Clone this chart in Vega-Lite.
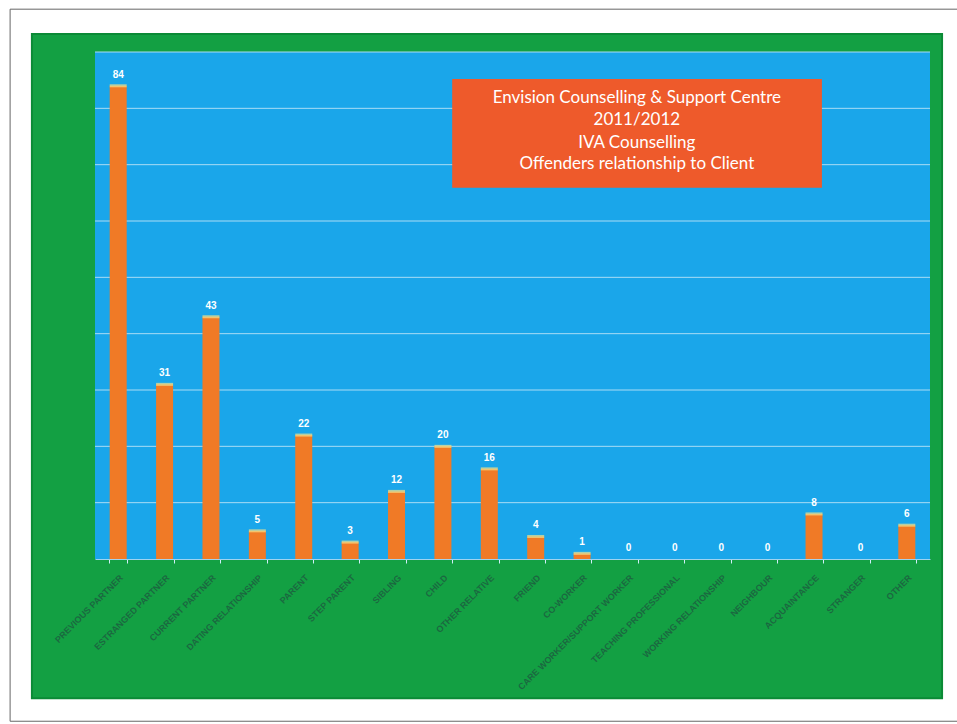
{
  "$schema": "https://vega.github.io/schema/vega-lite/v6.json",
  "autosize": {"type": "none"},
  "width": 835,
  "height": 507,
  "padding": {"left": 95, "top": 52, "right": 27, "bottom": 165},
  "background": "#ffffff",
  "config": {"view": {"stroke": null}},
  "resolve": {"scale": {"x": "independent"}, "axis": {"x": "independent"}},
  "layer": [
    {
      "data": {"values": [{}]},
      "mark": {"type": "rect", "fill": null, "stroke": "#666666", "strokeWidth": 1},
      "encoding": {
        "x": {"datum": -1.83, "type": "quantitative", "scale": {"domain": [0, 18], "nice": false, "zero": false}, "axis": null},
        "x2": {"datum": 18.8},
        "y": {"datum": 97.6, "type": "quantitative", "scale": {"domain": [0, 90], "nice": false}, "axis": null},
        "y2": {"datum": -28.8}
      }
    },
    {
      "data": {"values": [{}]},
      "mark": {"type": "rect", "fill": "#13a043", "stroke": "#0b8a36", "strokeWidth": 2},
      "encoding": {
        "x": {"datum": -1.36, "type": "quantitative", "scale": {"domain": [0, 18], "nice": false, "zero": false}, "axis": null},
        "x2": {"datum": 18.26},
        "y": {"datum": 93.2, "type": "quantitative", "scale": {"domain": [0, 90], "nice": false}, "axis": null},
        "y2": {"datum": -24.7}
      }
    },
    {
      "data": {"values": [{}]},
      "mark": {"type": "rect", "fill": "#1aa6ea"},
      "encoding": {
        "x": {"datum": 0, "type": "quantitative", "scale": {"domain": [0, 18], "nice": false, "zero": false}, "axis": null},
        "x2": {"datum": 18},
        "y": {"datum": 90, "type": "quantitative", "scale": {"domain": [0, 90], "nice": false}, "axis": null},
        "y2": {"datum": 0}
      }
    },
    {
      "data": {"values": [{"g": 10}, {"g": 20}, {"g": 30}, {"g": 40}, {"g": 50}, {"g": 60}, {"g": 70}, {"g": 80}, {"g": 90}]},
      "mark": {"type": "rule", "color": "#a9dcf5", "strokeWidth": 1},
      "encoding": {
        "y": {"field": "g", "type": "quantitative", "scale": {"domain": [0, 90], "nice": false}, "axis": null}
      }
    },
    {
      "data": {"values": [
        {"cat": "PREVIOUS PARTNER", "n": 84},
        {"cat": "ESTRANGED PARTNER", "n": 31},
        {"cat": "CURRENT PARTNER", "n": 43},
        {"cat": "DATING RELATIONSHIP", "n": 5},
        {"cat": "PARENT", "n": 22},
        {"cat": "STEP PARENT", "n": 3},
        {"cat": "SIBLING", "n": 12},
        {"cat": "CHILD", "n": 20},
        {"cat": "OTHER RELATIVE", "n": 16},
        {"cat": "FRIEND", "n": 4},
        {"cat": "CO-WORKER", "n": 1},
        {"cat": "CARE WORKER/SUPPORT WORKER", "n": 0},
        {"cat": "TEACHING PROFESSIONAL", "n": 0},
        {"cat": "WORKING RELATIONSHIP", "n": 0},
        {"cat": "NEIGHBOUR", "n": 0},
        {"cat": "ACQUAINTANCE", "n": 8},
        {"cat": "STRANGER", "n": 0},
        {"cat": "OTHER", "n": 6}
      ]},
      "encoding": {
        "x": {"field": "cat", "type": "nominal", "sort": null,
              "scale": {"paddingInner": 0.6, "paddingOuter": 0.3},
              "axis": {"orient": "bottom", "zindex": 1, "title": null, "labelAngle": -45, "labelFontSize": 9, "labelFontWeight": "bold", "labelFont": "Liberation Sans", "labelColor": "#1f4f3f",
                       "labelPadding": 10, "domainColor": "#9fd3ef", "tickColor": "#d0eefa", "tickSize": 4, "tickBand": "extent", "labelLimit": 250, "labelOpacity": 0.7}},
        "y": {"field": "n", "type": "quantitative", "scale": {"domain": [0, 90], "nice": false}, "axis": null}
      },
      "layer": [
        {"mark": {"type": "bar", "color": "#f07a26", "width": 17}},
        {
          "transform": [{"filter": "datum.n > 0"}],
          "mark": {"type": "tick", "color": "#f4e38c", "thickness": 3, "size": 17}
        },
        {
          "mark": {"type": "text", "color": "#ffffff", "fontSize": 10, "fontWeight": "bold", "font": "Liberation Sans", "dy": -11},
          "encoding": {"text": {"field": "n", "type": "quantitative"}}
        }
      ]
    },
    {
      "data": {"values": [{}]},
      "mark": {"type": "rect", "fill": "#ee5a2b"},
      "encoding": {
        "x": {"datum": 7.7, "type": "quantitative", "scale": {"domain": [0, 18], "nice": false, "zero": false}, "axis": null},
        "x2": {"datum": 15.67},
        "y": {"datum": 85.2, "type": "quantitative", "scale": {"domain": [0, 90], "nice": false}, "axis": null},
        "y2": {"datum": 65.9}
      }
    },
    {
      "data": {"values": [
        {"t": "Envision Counselling & Support Centre", "p": 81.8},
        {"t": "2011/2012", "p": 77.9},
        {"t": "IVA Counselling", "p": 73.9},
        {"t": "Offenders relationship to Client", "p": 70.1}
      ]},
      "mark": {"type": "text", "color": "#ffffff", "fontSize": 17, "font": "Lato", "baseline": "middle"},
      "encoding": {
        "x": {"datum": 11.68, "type": "quantitative", "scale": {"domain": [0, 18], "nice": false, "zero": false}, "axis": null},
        "y": {"field": "p", "type": "quantitative", "scale": {"domain": [0, 90], "nice": false}, "axis": null},
        "text": {"field": "t"}
      }
    }
  ]
}
